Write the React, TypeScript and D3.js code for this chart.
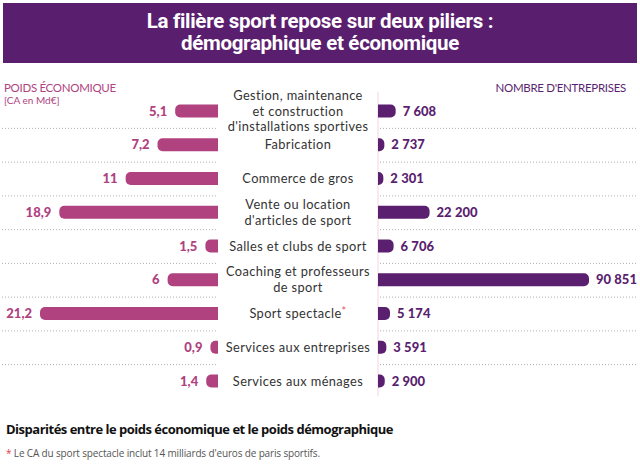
import React from "react";
import * as d3 from "d3";

const categories: string[][] = [
  ["Gestion, maintenance", "et construction", "d'installations sportives"],
  ["Fabrication"],
  ["Commerce de gros"],
  ["Vente ou location", "d'articles de sport"],
  ["Salles et clubs de sport"],
  ["Coaching et professeurs", "de sport"],
  ["Sport spectacle"],
  ["Services aux entreprises"],
  ["Services aux ménages"],
];
const caValues = [5.1, 7.2, 11, 18.9, 1.5, 6, 21.2, 0.9, 1.4];
const entreprises = [7608, 2737, 2301, 22200, 6706, 90851, 5174, 3591, 2900];
const asteriskRow = 6;

const title = ["La filière sport repose sur deux piliers :", "démographique et économique"];
const leftHeader = "POIDS ÉCONOMIQUE";
const leftSub = "[CA en Md€]";
const rightHeader = "NOMBRE D'ENTREPRISES";
const footTitle = "Disparités entre le poids économique et le poids démographique";
const footNote = "Le CA du sport spectacle inclut 14 milliards d'euros de paris sportifs.";

const PINK = "#b0427f";
const PURPLE = "#5b1f70";
const BANNER = "#5a1e6e";
const W = 640, H = 474;

const locale = d3.formatLocale({ decimal: ",", thousands: "\u202F", grouping: [3], currency: ["", "€"] });
const fmtInt = locale.format(",d");
const fmtDec = (v: number) => String(v).replace(".", ",");

function leftBar(x0: number, x1: number, y: number, h: number) {
  const w = x1 - x0;
  const r = Math.min(5, w, h / 2);
  const p = d3.path();
  p.moveTo(x1, y);
  p.lineTo(x0 + r, y);
  p.arcTo(x0, y, x0, y + r, r);
  p.lineTo(x0, y + h - r);
  p.arcTo(x0, y + h, x0 + r, y + h, r);
  p.lineTo(x1, y + h);
  p.closePath();
  return p.toString();
}
function rightBar(x0: number, x1: number, y: number, h: number) {
  const w = x1 - x0;
  const r = Math.min(5, w, h / 2);
  const p = d3.path();
  p.moveTo(x0, y);
  p.lineTo(x1 - r, y);
  p.arcTo(x1, y, x1, y + r, r);
  p.lineTo(x1, y + h - r);
  p.arcTo(x1, y + h, x1 - r, y + h, r);
  p.lineTo(x0, y + h);
  p.closePath();
  return p.toString();
}

export default function App() {
  const idx = d3.range(categories.length);
  const y = d3.scalePoint<number>().domain(idx).range([111, 381]);
  const step = y.step();
  const xL = d3.scaleLinear().domain([0, 21.2]).range([218, 40]);
  const xR = d3.scaleLinear().domain([0, 90851]).range([378, 589]);
  const barH = 13;
  const font = "Lato, 'Open Sans', sans-serif";
  const wide = "'Open Sans', sans-serif";

  return (
    <svg width={W} height={H} style={{ position: "absolute", left: 0, top: 0, background: "#fff" }} fontFamily={font}>
      <rect x={3} y={3} width={634} height={60} fill={BANNER} />
      {title.map((t, i) => (
        <text key={i} x={320} y={28 + i * 22} textAnchor="middle" fill="#fff" fontSize={20.5} fontWeight={700}
          fontFamily="Roboto, sans-serif" letterSpacing={-0.3}>{t}</text>
      ))}
      <text x={4} y={92} fill={PINK} fontSize={11.5} fontWeight={400} letterSpacing={-0.3}>{leftHeader}</text>
      <text x={4} y={104} fill={PINK} fontSize={10} fontWeight={400}>{leftSub}</text>
      <text x={626} y={92} textAnchor="end" fill={PURPLE} fontSize={11.5} fontWeight={400} letterSpacing={-0.3}>{rightHeader}</text>

      <line x1={xR(0)} x2={xR(0)} y1={92} y2={396} stroke="#f3d3e2" strokeWidth={1} />

      {idx.slice(0, -1).map((i) => {
        const yy = (y(i) as number) + step / 2 + 0.5;
        return (
          <g key={"sep" + i}>
            <line x1={2} x2={218} y1={yy} y2={yy} stroke="#999" strokeWidth={0.8} strokeDasharray="1 2" />
            <line x1={380} x2={636} y1={yy} y2={yy} stroke="#999" strokeWidth={0.8} strokeDasharray="1 2" />
          </g>
        );
      })}

      {idx.map((i) => {
        const cy = y(i) as number;
        const lines = categories[i];
        const lh = 15.6;
        const startY = cy - ((lines.length - 1) * lh) / 2 + 4.5;
        return (
          <g key={"row" + i}>
            <path d={leftBar(xL(caValues[i]), xL(0), cy - barH / 2, barH)} fill={PINK} />
            <text x={xL(caValues[i]) - 8} y={cy + 4.5} textAnchor="end" fill={PINK} fontSize={13} fontWeight={900}>
              {fmtDec(caValues[i])}
            </text>
            <path d={rightBar(xR(0), xR(entreprises[i]), cy - barH / 2, barH)} fill={PURPLE} />
            <text x={xR(entreprises[i]) + 7} y={cy + 4.5} textAnchor="start" fill={PURPLE} fontSize={13} fontWeight={900}>
              {fmtInt(entreprises[i])}
            </text>
            {lines.map((l, j) => (
              <text key={j} x={298} y={startY + j * lh} textAnchor="middle" fill="#333" fontSize={12.8}
                fontWeight={400} letterSpacing={0.4}>
                {l}
                {i === asteriskRow && j === lines.length - 1 ? (
                  <tspan fill="#e8506a" fontSize={11} dy={-3}>*</tspan>
                ) : null}
              </text>
            ))}
          </g>
        );
      })}

      <text x={6} y={434} fill="#111" fontSize={13} fontWeight={700} fontFamily={wide} letterSpacing={-0.5}>{footTitle}</text>
      <text x={6} y={457} fill="#555" fontSize={10} fontWeight={400} fontFamily={wide} letterSpacing={-0.15}>
        <tspan fill="#e03c4b">* </tspan>
        {footNote}
      </text>
    </svg>
  );
}
